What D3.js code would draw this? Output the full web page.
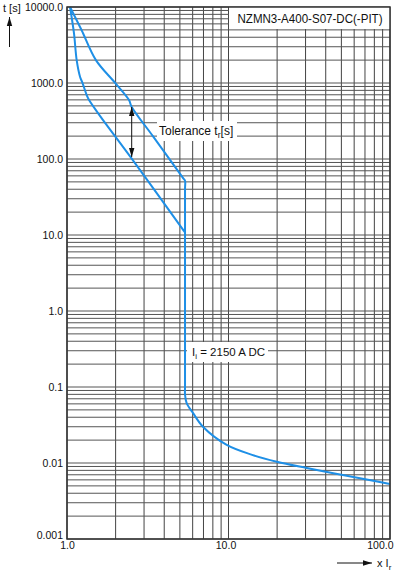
<!DOCTYPE html>
<html>
<head>
<meta charset="utf-8">
<script src="https://cdn.jsdelivr.net/npm/d3@7"></script>
<style>
  html,body{margin:0;padding:0;background:#fff}
  svg{display:block}
  text{font-family:"Liberation Sans",Arial,sans-serif;fill:#111}
</style>
</head>
<body>
<div id="chart"></div>
<script>
// tripping curve, x = multiple of Ir, t in seconds
const upperX = [1.044, 1.23, 1.51, 1.98, 2.42, 2.51, 3.42, 5.25, 5.38, 5.38, 5.38, 5.38, 5.5, 6.05, 6.95, 9.75, 14, 19.9, 30.5, 65.2, 100];
const upperT = [10000, 4980, 2000, 1010, 597, 488, 197, 55.7, 51.8, 40, 0.1, 0.08, 0.062, 0.045, 0.030, 0.0173, 0.0128, 0.0104, 0.0086, 0.0063, 0.0053];
const lowerX = [1.044, 1.104, 1.148, 1.204, 1.245, 1.324, 1.37, 1.6, 2.51, 5.25, 5.38];
const lowerT = [10000, 4550, 2000, 1210, 1010, 695, 597, 370, 102, 11.6, 10.8];

const xTickValues = [1, 10, 100];
const xTickLabels = ['1.0', '10.0', '100.0'];
const yTickValues = [0.001, 0.01, 0.1, 1, 10, 100, 1000, 10000];
const yTickLabels = ['0.001', '0.01', '0.1', '1.0', '10.0', '100.0', '1000.0', '10000.0'];

const title = 'NZMN3-A400-S07-DC(-PIT)';
const W = 394, H = 580;
const L = 67, R = 390, T = 7, B = 539;
const BLUE = '#1e8fe6';

const x = d3.scaleLog().domain([1, 100]).range([L, R]);
const y = d3.scaleLog().domain([0.001, 10000]).range([B, T]);

const svg = d3.select('#chart').append('svg').attr('width', W).attr('height', H);
svg.append('rect').attr('width', W).attr('height', H).attr('fill', '#fff');

// grid
const grid = svg.append('g').attr('stroke', '#444').attr('stroke-width', 1);
grid.selectAll('line.v').data(x.ticks()).join('line').attr('class', 'v')
  .attr('x1', d => x(d)).attr('x2', d => x(d)).attr('y1', T).attr('y2', B);
grid.selectAll('line.h').data(y.ticks()).join('line').attr('class', 'h')
  .attr('y1', d => y(d)).attr('y2', d => y(d)).attr('x1', L).attr('x2', R).attr('stroke', '#555');

// title box
svg.append('rect').attr('x', x(10) + 0.5).attr('y', T).attr('width', R - x(10) - 0.5).attr('height', 22).attr('fill', '#fff');
svg.append('text').attr('x', 310).attr('y', 23).attr('text-anchor', 'middle')
  .style('font-size', '12.5px').attr('textLength', 145).attr('lengthAdjust', 'spacingAndGlyphs').text(title);

// annotation boxes
svg.append('rect').attr('x', 157).attr('y', 121).attr('width', 80).attr('height', 20).attr('fill', '#fff');
const tol = svg.append('text').attr('x', 159).attr('y', 135).style('font-size', '12px');
tol.append('tspan').text('Tolerance t');
tol.append('tspan').attr('dy', 3).style('font-size', '8.5px').text('r');
tol.append('tspan').attr('dy', -3).text('[s]');

svg.append('rect').attr('x', 187).attr('y', 342).attr('width', 81).attr('height', 20).attr('fill', '#fff');
const ii = svg.append('text').attr('x', 192).attr('y', 356).style('font-size', '11.5px');
ii.append('tspan').text('I');
ii.append('tspan').attr('dy', 3).style('font-size', '8px').text('i');
ii.append('tspan').attr('dy', -3).text(' = 2150 A DC');

// curves
const line = d3.line().x(d => x(d[0])).y(d => y(d[1])).curve(d3.curveCatmullRom.alpha(0.5));
svg.append('path').datum(upperX.map((v, i) => [v, upperT[i]])).attr('d', line)
  .attr('fill', 'none').attr('stroke', BLUE).attr('stroke-width', 2);
svg.append('path').datum(lowerX.map((v, i) => [v, lowerT[i]])).attr('d', line)
  .attr('fill', 'none').attr('stroke', BLUE).attr('stroke-width', 2);

// frame
svg.append('rect').attr('x', L).attr('y', T).attr('width', R - L).attr('height', B - T)
  .attr('fill', 'none').attr('stroke', '#333').attr('stroke-width', 1.5);

// axes labels
const ya = svg.append('g').attr('transform', `translate(${L},0)`)
  .call(d3.axisLeft(y).tickValues(yTickValues).tickFormat((d, i) => yTickLabels[i]).tickSize(0).tickPadding(4));
ya.select('.domain').remove();
ya.selectAll('text').style('font-size', '10.5px').attr('fill', '#111').attr('dy', '0.32em');
ya.selectAll('.tick').filter(d => d === 0.001).select('text').attr('dy', '-0.05em');

const xa = svg.append('g').attr('transform', `translate(0,${B})`)
  .call(d3.axisBottom(x).tickValues(xTickValues).tickFormat((d, i) => xTickLabels[i]).tickSize(0).tickPadding(3));
xa.select('.domain').remove();
xa.selectAll('text').style('font-size', '10.5px').attr('fill', '#111');
xa.selectAll('.tick').filter(d => d === 100).select('text').attr('text-anchor', 'end').attr('dx', 3);
xa.selectAll('.tick').filter(d => d === 10).select('text').attr('dx', -3);

// arrowheads
const defs = svg.append('defs');
defs.append('marker').attr('id', 'ah').attr('viewBox', '0 0 10 10').attr('refX', 10).attr('refY', 5)
  .attr('markerWidth', 9).attr('markerHeight', 9).attr('orient', 'auto-start-reverse')
  .attr('markerUnits', 'userSpaceOnUse')
  .append('path').attr('d', 'M0,2L10,5L0,8Z').attr('fill', '#111');

svg.append('line').attr('x1', 131.7).attr('x2', 131.7).attr('y1', 107).attr('y2', 157)
  .attr('stroke', '#111').attr('stroke-width', 1)
  .attr('marker-start', 'url(#ah)').attr('marker-end', 'url(#ah)');

// axis titles
svg.append('text').attr('x', 3).attr('y', 12).style('font-size', '11px').text('t [s]');
svg.append('line').attr('x1', 9.5).attr('x2', 9.5).attr('y1', 47).attr('y2', 17)
  .attr('stroke', '#111').attr('stroke-width', 1).attr('marker-end', 'url(#ah)');

svg.append('line').attr('x1', 337).attr('x2', 372).attr('y1', 563).attr('y2', 563)
  .attr('stroke', '#111').attr('stroke-width', 1).attr('marker-end', 'url(#ah)');
const xl = svg.append('text').attr('x', 377).attr('y', 567).style('font-size', '11px');
xl.append('tspan').text('x I');
xl.append('tspan').attr('dy', 3).style('font-size', '8px').text('r');
</script>
</body>
</html>
